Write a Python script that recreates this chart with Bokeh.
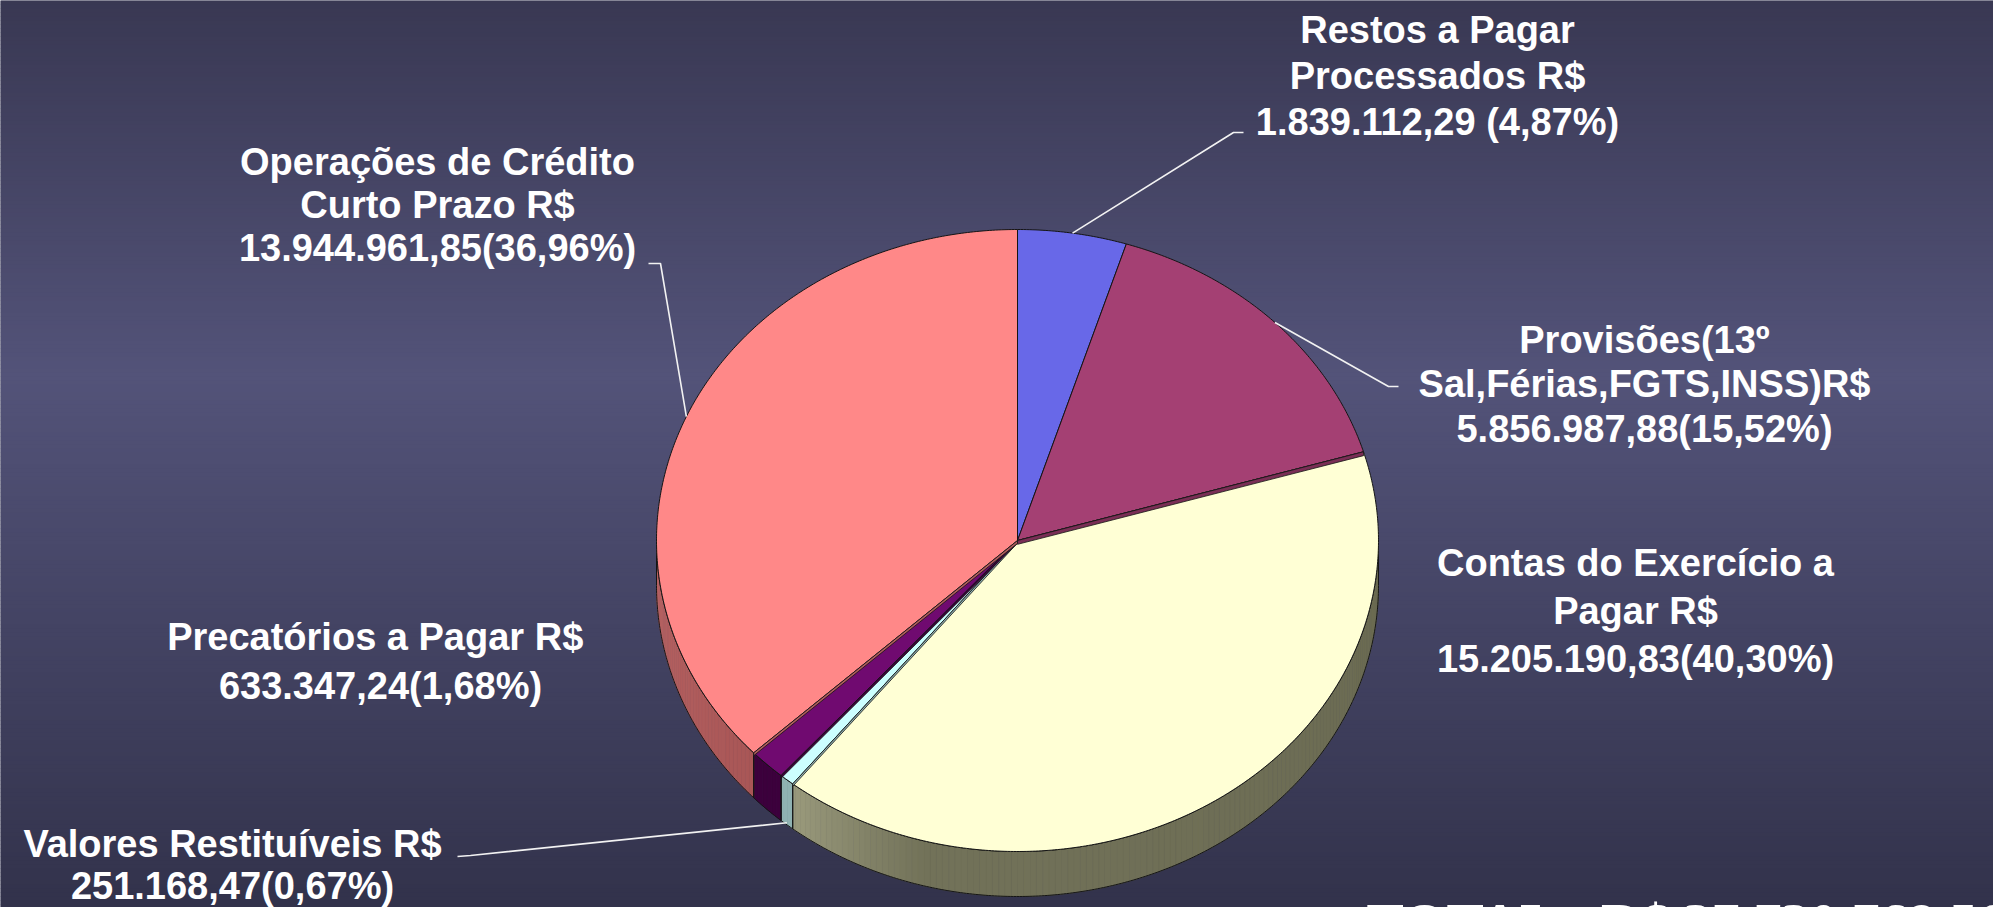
import numpy as np
from bokeh.plotting import figure
from bokeh.models import Range1d, Label, ColumnDataSource
from bokeh.core.properties import value
from bokeh.embed import file_html
from bokeh.resources import INLINE

# ---------------- data ----------------
categories = ["Restos a Pagar Processados", "Provisões", "Contas do Exercício a Pagar",
              "Valores Restituíveis", "Precatórios a Pagar", "Operações de Crédito Curto Prazo"]
values = [1839112.29, 5856987.88, 15205190.83, 251168.47, 633347.24, 13944961.85]
percent_text = ["4,87%", "15,52%", "40,30%", "0,67%", "1,68%", "36,96%"]
top_colors = ["#6868E8", "#A44073", "#FFFFD5", "#CCFFFF", "#700A70", "#FF8888"]
side_colors = ["#34347A", "#7A2E55", "#6E6E56", "#8FB2B2", "#3C003C", "#B05C5C"]
label_lines = [
    ["Restos a Pagar", "Processados R$", "1.839.112,29 (4,87%)"],
    ["Provisões(13º", "Sal,Férias,FGTS,INSS)R$", "5.856.987,88(15,52%)"],
    ["Contas do Exercício a", "Pagar R$", "15.205.190,83(40,30%)"],
    ["Valores Restituíveis R$", "251.168,47(0,67%)"],
    ["Precatórios  a Pagar R$", "633.347,24(1,68%)"],
    ["Operações de Crédito", "Curto Prazo R$", "13.944.961,85(36,96%)"],
]
total_text = "TOTAL : R$ 37.730.768,56"

# ---------------- layout ----------------
W, H = 1993, 907
cx, cy, rx, ry, depth = 1017.0, 540.0, 361.0, 311.0, 45.0
label_x = [1437, 1644, 1635, 232, 380, 437]
label_y0 = [29, 339, 562, 843, 636, 161]
line_steps = [46.0, 44.5, 48.0, 42.0, 49.0, 43.0]


def hex2rgb(h):
    h = h.lstrip("#")
    return np.array([int(h[i:i + 2], 16) for i in (0, 2, 4)], dtype=float)


def rgb2hex(c):
    c = np.clip(np.round(c), 0, 255).astype(int)
    return "#%02x%02x%02x" % tuple(c)


def interp_color(t, stops, cols):
    arr = np.array([hex2rgb(c) for c in cols])
    return rgb2hex([np.interp(t, stops, arr[:, k]) for k in range(3)])


def pt(theta, dy=0.0):
    r = np.radians(theta)
    return cx + rx * np.sin(r), cy - ry * np.cos(r) + dy


def arc(a, b, dy=0.0):
    n = max(2, int(np.ceil(abs(b - a) / 0.5)) + 1)
    t = np.linspace(a, b, n)
    xs, ys = pt(t, dy)
    return list(xs), list(ys)


p = figure(width=W, height=H, x_range=Range1d(0, W), y_range=Range1d(H, 0),
           output_backend="svg", toolbar_location=None, min_border=0,
           x_axis_location=None, y_axis_location=None)
p.grid.visible = False
p.outline_line_color = None
p.background_fill_color = "#44435F"
p.border_fill_color = "#44435F"

# ---------------- background gradient ----------------
step = 4
ytop = np.arange(0, H, step)
bg_cols = [interp_color(y + step / 2, [0, 376, H], ["#393853", "#535379", "#32324B"]) for y in ytop]
p.quad(left=0, right=W, top=list(ytop), bottom=list(ytop + step + 0.5), fill_color=bg_cols,
       line_color=None)

# ---------------- pie geometry ----------------
vals = np.array(values, dtype=float)
frac = vals / vals.sum()
ends = np.cumsum(frac) * 360.0
starts = ends - frac * 360.0
mids = (starts + ends) / 2.0


def side_color(i, theta):
    if i == 2:
        return interp_color(theta, [90, 195, 218.5], ["#6A6A52", "#727259", "#9A9A7C"])
    if i == 5:
        return interp_color(theta, [226, 270], ["#A85656", "#B86464"])
    return side_colors[i]


# side walls (front half only)
sfx, sfy, sfc = [], [], []
sox, soy = [], []
for i in range(len(values)):
    a, b = max(starts[i], 90.0), min(ends[i], 270.0)
    if a >= b:
        continue
    edges = list(np.arange(a, b, 1.0)) + [b]
    for k in range(len(edges) - 1):
        t0, t1 = edges[k], edges[k + 1]
        tx, ty = arc(t0, t1)
        bx, by = arc(t1, t0, depth)
        sfx.append(tx + bx)
        sfy.append(ty + by)
        sfc.append(side_color(i, (t0 + t1) / 2))
    tx, ty = arc(a, b)
    bx, by = arc(b, a, depth)
    sox.append(tx + bx)
    soy.append(ty + by)

p.patches(sfx, sfy, fill_color=sfc, line_color=sfc, line_width=0.6)
p.patches(sox, soy, fill_alpha=0, line_color="#151515", line_width=1)

# top faces
txs, tys = [], []
for i in range(len(values)):
    ax, ay = arc(starts[i], ends[i])
    txs.append([cx] + ax)
    tys.append([cy] + ay)
p.patches(txs, tys, fill_color=top_colors, line_color="#151515", line_width=1)

# thin radial wall strips visible at slice boundaries
wx, wy, wc = [], [], []
for i in range(len(values) - 1):
    th = ends[i]
    s = np.sin(np.radians(th))
    h = 4.0 * abs(s)
    if h < 1.5:
        continue
    owner = i if s > 0 else i + 1
    ex, ey = pt(th)
    wx.append([cx, ex, ex, cx])
    wy.append([cy, ey, ey + h, cy + h])
    wc.append(side_colors[owner])
p.patches(wx, wy, fill_color=wc, line_color="#151515", line_width=0.8)

# ---------------- leader lines ----------------
lead_x, lead_y = [], []
x0, y0 = pt(mids[0]); lead_x.append([x0, 1233, 1243]); lead_y.append([y0, 132, 132])
x1, y1 = pt(mids[1]); lead_x.append([x1, 1388, 1398]); lead_y.append([y1, 386, 386])
x5, y5 = pt(mids[5]); lead_x.append([x5, 660, 648]); lead_y.append([y5, 263, 263])
x3, y3 = pt(mids[3], depth - 2); lead_x.append([x3, 470, 457]); lead_y.append([y3, 855, 856])
p.multi_line(lead_x, lead_y, line_color="#F2F2F2", line_width=1.6)

# ---------------- labels ----------------
tx_, ty_, tt_ = [], [], []
for i, lines in enumerate(label_lines):
    for j, ln in enumerate(lines):
        tx_.append(label_x[i])
        ty_.append(label_y0[i] + j * line_steps[i])
        tt_.append(ln)
src = ColumnDataSource(dict(x=tx_, y=ty_, text=tt_))
p.text(x="x", y="y", text="text", source=src, text_align="center", text_baseline="alphabetic",
       text_color="#FFFFFF", text_font=value("Liberation Sans"), text_font_size="38px",
       text_font_style="bold")

p.add_layout(Label(x=1366, y=923, text=total_text, text_font="Liberation Serif",
                   text_font_style="bold", text_font_size="56px", text_color="#FFFFFF",
                   text_align="left", text_baseline="alphabetic"))

open("out.html", "w").write(file_html(p, INLINE))
